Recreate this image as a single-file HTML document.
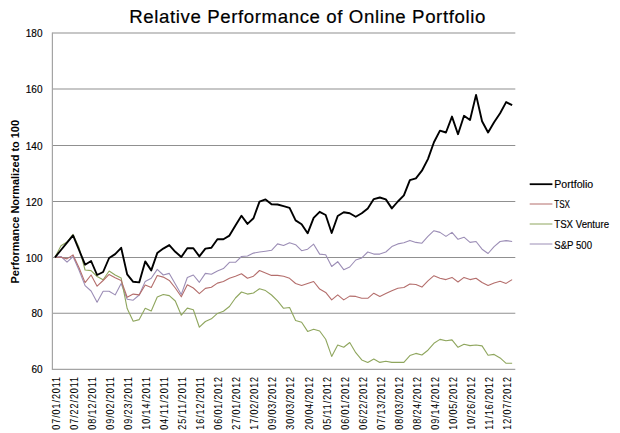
<!DOCTYPE html>
<html><head><meta charset="utf-8"><style>
html,body{margin:0;padding:0;background:#fff;width:620px;height:433px;overflow:hidden}
svg{display:block;font-family:"Liberation Sans", sans-serif}
</style></head><body>
<svg width="620" height="433" viewBox="0 0 620 433">
<rect width="620" height="433" fill="#fff"/>
<text x="129.3" y="23.2" font-size="18.67" fill="#000" stroke="#000" stroke-width="0.2" textLength="356" lengthAdjust="spacing">Relative Performance of Online Portfolio</text>
<line x1="52.4" y1="33.00" x2="515.3" y2="33.00" stroke="#909090" stroke-width="1.05"/>
<line x1="52.4" y1="89.00" x2="515.3" y2="89.00" stroke="#909090" stroke-width="1.05"/>
<line x1="52.4" y1="145.50" x2="515.3" y2="145.50" stroke="#909090" stroke-width="1.05"/>
<line x1="52.4" y1="201.50" x2="515.3" y2="201.50" stroke="#909090" stroke-width="1.05"/>
<line x1="52.4" y1="257.50" x2="515.3" y2="257.50" stroke="#909090" stroke-width="1.05"/>
<line x1="52.4" y1="313.30" x2="515.3" y2="313.30" stroke="#909090" stroke-width="1.05"/>
<line x1="52.4" y1="32.40" x2="52.4" y2="369.90" stroke="#a4a4a4" stroke-width="1.2"/>
<line x1="52.4" y1="369.30" x2="515.3" y2="369.30" stroke="#a4a4a4" stroke-width="1.2"/>
<text x="42.5" y="37.10" font-size="10" text-anchor="end" fill="#000" stroke="#000" stroke-width="0.15">180</text>
<text x="42.5" y="93.10" font-size="10" text-anchor="end" fill="#000" stroke="#000" stroke-width="0.15">160</text>
<text x="42.5" y="149.60" font-size="10" text-anchor="end" fill="#000" stroke="#000" stroke-width="0.15">140</text>
<text x="42.5" y="205.60" font-size="10" text-anchor="end" fill="#000" stroke="#000" stroke-width="0.15">120</text>
<text x="42.5" y="261.60" font-size="10" text-anchor="end" fill="#000" stroke="#000" stroke-width="0.15">100</text>
<text x="42.5" y="317.40" font-size="10" text-anchor="end" fill="#000" stroke="#000" stroke-width="0.15">80</text>
<text x="42.5" y="373.40" font-size="10" text-anchor="end" fill="#000" stroke="#000" stroke-width="0.15">60</text>
<text transform="translate(19.2,201.75) rotate(-90)" font-size="11.3" font-weight="bold" text-anchor="middle" textLength="163.5" lengthAdjust="spacingAndGlyphs" fill="#000">Performance Normalized to 100</text>
<text transform="translate(59.80,377) rotate(-90) scale(0.88,1)" font-size="10.2" text-anchor="end" textLength="59.89" lengthAdjust="spacing" fill="#000" stroke="#000" stroke-width="0.05">07/01/2011</text>
<text transform="translate(77.85,377) rotate(-90) scale(0.88,1)" font-size="10.2" text-anchor="end" textLength="59.89" lengthAdjust="spacing" fill="#000" stroke="#000" stroke-width="0.05">07/22/2011</text>
<text transform="translate(95.90,377) rotate(-90) scale(0.88,1)" font-size="10.2" text-anchor="end" textLength="59.89" lengthAdjust="spacing" fill="#000" stroke="#000" stroke-width="0.05">08/12/2011</text>
<text transform="translate(113.95,377) rotate(-90) scale(0.88,1)" font-size="10.2" text-anchor="end" textLength="59.89" lengthAdjust="spacing" fill="#000" stroke="#000" stroke-width="0.05">09/02/2011</text>
<text transform="translate(132.00,377) rotate(-90) scale(0.88,1)" font-size="10.2" text-anchor="end" textLength="59.89" lengthAdjust="spacing" fill="#000" stroke="#000" stroke-width="0.05">09/23/2011</text>
<text transform="translate(150.05,377) rotate(-90) scale(0.88,1)" font-size="10.2" text-anchor="end" textLength="59.89" lengthAdjust="spacing" fill="#000" stroke="#000" stroke-width="0.05">10/14/2011</text>
<text transform="translate(168.10,377) rotate(-90) scale(0.88,1)" font-size="10.2" text-anchor="end" textLength="59.89" lengthAdjust="spacing" fill="#000" stroke="#000" stroke-width="0.05">04/11/2011</text>
<text transform="translate(186.15,377) rotate(-90) scale(0.88,1)" font-size="10.2" text-anchor="end" textLength="59.89" lengthAdjust="spacing" fill="#000" stroke="#000" stroke-width="0.05">25/11/2011</text>
<text transform="translate(204.20,377) rotate(-90) scale(0.88,1)" font-size="10.2" text-anchor="end" textLength="59.89" lengthAdjust="spacing" fill="#000" stroke="#000" stroke-width="0.05">16/12/2011</text>
<text transform="translate(222.25,377) rotate(-90) scale(0.88,1)" font-size="10.2" text-anchor="end" textLength="59.89" lengthAdjust="spacing" fill="#000" stroke="#000" stroke-width="0.05">06/01/2012</text>
<text transform="translate(240.30,377) rotate(-90) scale(0.88,1)" font-size="10.2" text-anchor="end" textLength="59.89" lengthAdjust="spacing" fill="#000" stroke="#000" stroke-width="0.05">27/01/2012</text>
<text transform="translate(258.35,377) rotate(-90) scale(0.88,1)" font-size="10.2" text-anchor="end" textLength="59.89" lengthAdjust="spacing" fill="#000" stroke="#000" stroke-width="0.05">17/02/2012</text>
<text transform="translate(276.40,377) rotate(-90) scale(0.88,1)" font-size="10.2" text-anchor="end" textLength="59.89" lengthAdjust="spacing" fill="#000" stroke="#000" stroke-width="0.05">09/03/2012</text>
<text transform="translate(294.45,377) rotate(-90) scale(0.88,1)" font-size="10.2" text-anchor="end" textLength="59.89" lengthAdjust="spacing" fill="#000" stroke="#000" stroke-width="0.05">30/03/2012</text>
<text transform="translate(312.50,377) rotate(-90) scale(0.88,1)" font-size="10.2" text-anchor="end" textLength="59.89" lengthAdjust="spacing" fill="#000" stroke="#000" stroke-width="0.05">20/04/2012</text>
<text transform="translate(330.55,377) rotate(-90) scale(0.88,1)" font-size="10.2" text-anchor="end" textLength="59.89" lengthAdjust="spacing" fill="#000" stroke="#000" stroke-width="0.05">05/11/2012</text>
<text transform="translate(348.60,377) rotate(-90) scale(0.88,1)" font-size="10.2" text-anchor="end" textLength="59.89" lengthAdjust="spacing" fill="#000" stroke="#000" stroke-width="0.05">06/01/2012</text>
<text transform="translate(366.65,377) rotate(-90) scale(0.88,1)" font-size="10.2" text-anchor="end" textLength="59.89" lengthAdjust="spacing" fill="#000" stroke="#000" stroke-width="0.05">06/22/2012</text>
<text transform="translate(384.70,377) rotate(-90) scale(0.88,1)" font-size="10.2" text-anchor="end" textLength="59.89" lengthAdjust="spacing" fill="#000" stroke="#000" stroke-width="0.05">07/13/2012</text>
<text transform="translate(402.75,377) rotate(-90) scale(0.88,1)" font-size="10.2" text-anchor="end" textLength="59.89" lengthAdjust="spacing" fill="#000" stroke="#000" stroke-width="0.05">08/03/2012</text>
<text transform="translate(420.80,377) rotate(-90) scale(0.88,1)" font-size="10.2" text-anchor="end" textLength="59.89" lengthAdjust="spacing" fill="#000" stroke="#000" stroke-width="0.05">08/24/2012</text>
<text transform="translate(438.85,377) rotate(-90) scale(0.88,1)" font-size="10.2" text-anchor="end" textLength="59.89" lengthAdjust="spacing" fill="#000" stroke="#000" stroke-width="0.05">09/14/2012</text>
<text transform="translate(456.90,377) rotate(-90) scale(0.88,1)" font-size="10.2" text-anchor="end" textLength="59.89" lengthAdjust="spacing" fill="#000" stroke="#000" stroke-width="0.05">10/05/2012</text>
<text transform="translate(474.95,377) rotate(-90) scale(0.88,1)" font-size="10.2" text-anchor="end" textLength="59.89" lengthAdjust="spacing" fill="#000" stroke="#000" stroke-width="0.05">10/26/2012</text>
<text transform="translate(493.00,377) rotate(-90) scale(0.88,1)" font-size="10.2" text-anchor="end" textLength="59.89" lengthAdjust="spacing" fill="#000" stroke="#000" stroke-width="0.05">11/16/2012</text>
<text transform="translate(511.05,377) rotate(-90) scale(0.88,1)" font-size="10.2" text-anchor="end" textLength="59.89" lengthAdjust="spacing" fill="#000" stroke="#000" stroke-width="0.05">12/07/2012</text>
<polyline points="55.00,257.3 61.02,256.5 67.03,262.2 73.05,256.5 79.06,270.2 85.08,285.6 91.09,291.0 97.10,302.2 103.12,291.2 109.13,291.2 115.15,294.9 121.16,283.6 127.18,299.2 133.19,300.2 139.21,295.0 145.22,281.4 151.24,278.3 157.25,269.4 163.27,275.0 169.28,273.4 175.30,283.9 181.31,294.4 187.33,277.5 193.34,275.0 199.36,282.3 205.38,273.4 211.39,274.2 217.41,271.0 223.42,268.6 229.44,262.3 235.45,262.3 241.47,256.5 247.48,256.0 253.49,253.1 259.51,252.0 265.52,251.2 271.54,250.3 277.55,243.9 283.57,245.5 289.58,242.8 295.60,244.7 301.62,250.7 307.63,249.2 313.64,244.2 319.66,254.1 325.68,254.7 331.69,266.5 337.70,261.7 343.72,269.7 349.73,267.0 355.75,260.0 361.76,257.9 367.78,252.0 373.79,254.1 379.81,254.1 385.82,252.0 391.84,246.6 397.85,243.9 403.87,242.8 409.88,240.4 415.90,242.4 421.91,243.2 427.93,236.4 433.94,230.7 439.96,232.4 445.97,236.4 451.99,232.4 458.00,239.3 464.02,237.2 470.03,242.4 476.05,241.5 482.06,249.2 488.08,253.5 494.09,246.6 500.11,241.5 506.12,240.6 512.14,241.5" fill="none" stroke="#9C8EB6" stroke-width="1.1" stroke-linejoin="round"/>
<polyline points="55.00,257.3 61.02,245.7 67.03,242.0 73.05,234.4 79.06,247.6 85.08,270.0 91.09,270.6 97.10,276.5 103.12,279.7 109.13,271.0 115.15,275.0 121.16,278.1 127.18,308.6 133.19,321.2 139.21,319.6 145.22,308.2 151.24,311.0 157.25,297.0 163.27,294.5 169.28,295.6 175.30,301.0 181.31,315.2 187.33,308.1 193.34,309.7 199.36,327.2 205.38,321.5 211.39,318.8 217.41,313.4 223.42,311.3 229.44,306.5 235.45,298.0 241.47,292.0 247.48,294.1 253.49,293.0 259.51,288.7 265.52,290.6 271.54,295.0 277.55,300.9 283.57,308.3 289.58,307.5 295.60,320.4 301.62,322.3 307.63,331.4 313.64,329.3 319.66,331.0 325.68,339.3 331.69,356.4 337.70,345.1 343.72,347.3 349.73,342.5 355.75,352.7 361.76,359.9 367.78,362.4 373.79,359.1 379.81,362.4 385.82,361.2 391.84,362.4 397.85,362.4 403.87,362.4 409.88,355.6 415.90,353.4 421.91,355.0 427.93,350.2 433.94,343.3 439.96,339.4 445.97,340.8 451.99,339.9 458.00,347.3 464.02,344.2 470.03,345.6 476.05,345.0 482.06,345.9 488.08,355.3 494.09,354.4 500.11,357.9 506.12,363.3 512.14,363.3" fill="none" stroke="#8FA65E" stroke-width="1.1" stroke-linejoin="round"/>
<polyline points="55.00,257.3 61.02,257.3 67.03,258.9 73.05,254.9 79.06,267.8 85.08,282.6 91.09,275.0 97.10,286.2 103.12,280.5 109.13,274.4 115.15,277.7 121.16,280.5 127.18,297.3 133.19,294.1 139.21,294.9 145.22,285.0 151.24,287.5 157.25,275.5 163.27,277.1 169.28,280.4 175.30,288.0 181.31,296.8 187.33,284.7 193.34,288.0 199.36,293.6 205.38,288.4 211.39,287.2 217.41,283.1 223.42,281.5 229.44,278.3 235.45,276.2 241.47,273.8 247.48,278.3 253.49,276.2 259.51,270.5 265.52,273.0 271.54,275.4 277.55,275.4 283.57,276.2 289.58,278.3 295.60,283.5 301.62,285.4 307.63,283.5 313.64,281.5 319.66,289.1 325.68,292.4 331.69,299.9 337.70,294.8 343.72,299.9 349.73,296.1 355.75,296.4 361.76,298.3 367.78,298.3 373.79,293.2 379.81,296.4 385.82,293.5 391.84,290.7 397.85,288.3 403.87,287.5 409.88,284.0 415.90,284.5 421.91,287.1 427.93,280.8 433.94,275.7 439.96,278.2 445.97,279.6 451.99,277.4 458.00,282.0 464.02,277.4 470.03,279.6 476.05,278.2 482.06,282.5 488.08,285.4 494.09,283.0 500.11,281.3 506.12,283.4 512.14,279.6" fill="none" stroke="#B46E6C" stroke-width="1.1" stroke-linejoin="round"/>
<polyline points="55.00,257.3 61.02,250.0 67.03,242.7 73.05,235.4 79.06,250.0 85.08,264.7 91.09,261.0 97.10,275.0 103.12,272.0 109.13,258.0 115.15,254.1 121.16,247.8 127.18,274.4 133.19,281.8 139.21,282.4 145.22,261.4 151.24,270.4 157.25,253.1 163.27,248.6 169.28,245.1 175.30,251.8 181.31,257.0 187.33,248.3 193.34,248.3 199.36,256.4 205.38,248.6 211.39,247.8 217.41,239.2 223.42,239.2 229.44,235.6 235.45,225.4 241.47,215.8 247.48,223.9 253.49,218.3 259.51,201.6 265.52,199.4 271.54,204.2 277.55,204.5 283.57,206.2 289.58,207.8 295.60,220.4 301.62,224.2 307.63,233.3 313.64,217.8 319.66,211.8 325.68,215.0 331.69,233.0 337.70,216.0 343.72,212.3 349.73,213.3 355.75,216.8 361.76,213.3 367.78,208.4 373.79,199.1 379.81,197.5 385.82,199.4 391.84,208.4 397.85,201.5 403.87,195.3 409.88,180.2 415.90,178.3 421.91,170.7 427.93,159.1 433.94,142.3 439.96,130.6 445.97,132.5 451.99,116.6 458.00,134.2 464.02,115.8 470.03,120.0 476.05,94.9 482.06,121.2 488.08,132.5 494.09,122.3 500.11,113.2 506.12,102.1 512.14,105.2" fill="none" stroke="#000" stroke-width="1.9" stroke-linejoin="round"/>
<line x1="529.7" y1="184.2" x2="552.4" y2="184.2" stroke="#000" stroke-width="1.8"/>
<text x="554.3" y="188.0" font-size="10.2" fill="#000" stroke="#000" stroke-width="0.15" textLength="38.9" lengthAdjust="spacingAndGlyphs">Portfolio</text>
<line x1="529.7" y1="204.0" x2="552.4" y2="204.0" stroke="#B46E6C" stroke-width="1.0"/>
<text x="554.3" y="208.1" font-size="10.2" fill="#000" stroke="#000" stroke-width="0.15" textLength="15.7" lengthAdjust="spacingAndGlyphs">TSX</text>
<line x1="529.7" y1="224.0" x2="552.4" y2="224.0" stroke="#8FA65E" stroke-width="1.0"/>
<text x="554.3" y="228.3" font-size="10.2" fill="#000" stroke="#000" stroke-width="0.15" textLength="54.7" lengthAdjust="spacingAndGlyphs">TSX Venture</text>
<line x1="529.7" y1="244.0" x2="552.4" y2="244.0" stroke="#9C8EB6" stroke-width="1.0"/>
<text x="554.3" y="248.6" font-size="10.2" fill="#000" stroke="#000" stroke-width="0.15" textLength="37.7" lengthAdjust="spacingAndGlyphs">S&amp;P 500</text>
</svg>
</body></html>
